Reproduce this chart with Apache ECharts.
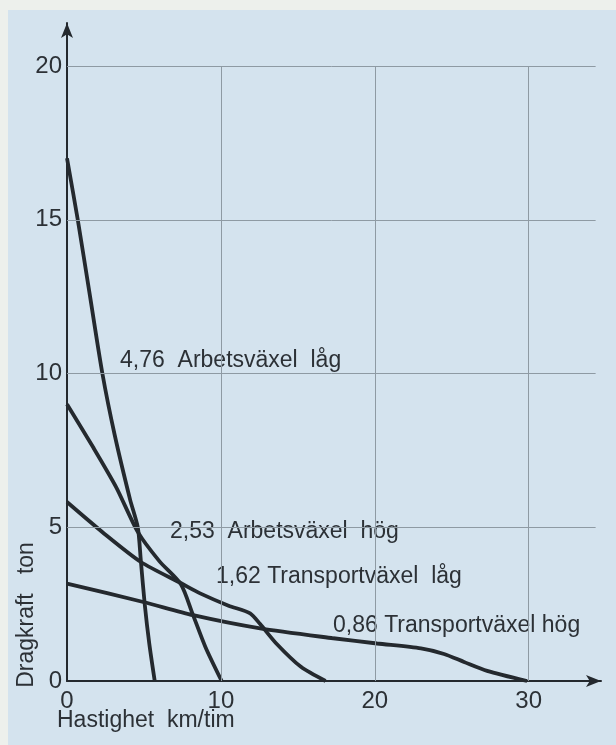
<!DOCTYPE html>
<html>
<head>
<meta charset="utf-8">
<script src="https://cdn.jsdelivr.net/npm/echarts@6/dist/echarts.min.js"></script>
<style>
html,body{margin:0;padding:0;background:#edf0ec;}
#paper{position:absolute;left:8px;top:10px;right:0;bottom:0;background:#d4e3ee;}
#chart{position:absolute;left:0;top:0;width:616px;height:745px;}
</style>
</head>
<body>
<div id="paper"></div>
<div id="chart"></div>
<script>
// ticks
var xTicks=[0,10,20,30];
var yTicks=[0,5,10,15,20];

// curve names
var names=["4,76  Arbetsväxel  låg","2,53  Arbetsväxel  hög","1,62 Transportväxel  låg","0,86 Transportväxel hög"];

// speed (km/tim) and pull (ton)
var arbLagX=[0,0.7,1.5,2.3,3.1,4.1,4.6,4.8,5.05,5.35,5.7];
var arbLagY=[17,15,12.5,10,8,5.9,5,3.9,2.5,1.2,0];
var arbHogX=[0,1.7,3.2,4.6,6,7.4,8.15,9.0,10.05];
var arbHogY=[9.0,7.6,6.3,4.85,3.9,3.15,2.2,1.1,0];
var traLagX=[0,2.4,4.8,7.45,8.65,10.5,11.9,12.55,13.6,15.2,16.8];
var traLagY=[5.82,4.8,3.87,3.17,2.85,2.45,2.2,1.85,1.22,0.46,0];
var traHogX=[0,4.96,8.2,12.55,17.3,20.15,23.0,24.5,25.8,27.3,29.9];
var traHogY=[3.17,2.57,2.14,1.71,1.39,1.22,1.06,0.88,0.62,0.33,0];

var curves=[[arbLagX,arbLagY],[arbHogX,arbHogY],[traLagX,traLagY],[traHogX,traHogY]];

var font="Liberation Sans, Arial, sans-serif";
var ink="#24292e";
var textInk="#2c3136";

function zip(xs,ys){
    var out=[];
    for(var i=0;i<xs.length;i++){out.push([xs[i],ys[i]]);}
    return out;
}

// grid lines stop at 20 ton / short of the arrow
var gridLines=[];
yTicks.forEach(function(v){
    if(v>0){gridLines.push([{coord:[0,v]},{coord:[34.35,v]}]);}
});
xTicks.forEach(function(v){
    if(v>0){gridLines.push([{coord:[v,0]},{coord:[v,20]}]);}
});

var series=[{
    type:"line",
    data:[],
    z:1,
    silent:true,
    markLine:{
        silent:true,
        symbol:"none",
        label:{show:false},
        lineStyle:{color:"#8e9aa3",width:1,type:"solid"},
        data:gridLines
    }
}];
curves.forEach(function(c,i){
    series.push({
        type:"line",
        name:names[i],
        data:zip(c[0],c[1]),
        smooth:0.25,
        showSymbol:false,
        z:3,
        lineStyle:{color:ink,width:3.8}
    });
});

var chart=echarts.init(document.getElementById("chart"));
chart.setOption({
    backgroundColor:"transparent",
    animation:false,
    grid:{left:67,right:15,top:23,bottom:64},
    xAxis:{
        type:"value",min:0,max:34.7,interval:10,
        axisLine:{show:true,lineStyle:{color:ink,width:2},symbol:["none","arrow"],symbolSize:[9,15]},
        axisTick:{show:false},
        splitLine:{show:false},
        axisLabel:{color:textInk,fontSize:24,fontFamily:font,margin:8,showMaxLabel:false,
            formatter:function(v){return xTicks.indexOf(v)>=0?String(v):"";}}
    },
    yAxis:{
        type:"value",min:0,max:21.4,interval:5,
        axisLine:{show:true,lineStyle:{color:ink,width:2},symbol:["none","arrow"],symbolSize:[9,15]},
        axisTick:{show:false},
        splitLine:{show:false},
        axisLabel:{color:textInk,fontSize:24,fontFamily:font,margin:5,showMaxLabel:false,
            formatter:function(v){return yTicks.indexOf(v)>=0?String(v):"";}}
    },
    graphic:[
        {type:"text",x:120,y:361,style:{text:names[0],fill:textInk,font:"23px "+font,textVerticalAlign:"middle"}},
        {type:"text",x:170,y:532,style:{text:names[1],fill:textInk,font:"23px "+font,textVerticalAlign:"middle"}},
        {type:"text",x:216,y:577,style:{text:names[2],fill:textInk,font:"23px "+font,textVerticalAlign:"middle"}},
        {type:"text",x:333,y:626,style:{text:names[3],fill:textInk,font:"23px "+font,textVerticalAlign:"middle"}},
        {type:"text",x:57,y:721,style:{text:"Hastighet  km/tim",fill:textInk,font:"23px "+font,textVerticalAlign:"middle"}},
        {type:"text",x:27,y:615,rotation:Math.PI/2,style:{text:"Dragkraft   ton",fill:textInk,font:"23px "+font,textAlign:"center",textVerticalAlign:"middle"}}
    ],
    series:series
});
</script>
</body>
</html>
